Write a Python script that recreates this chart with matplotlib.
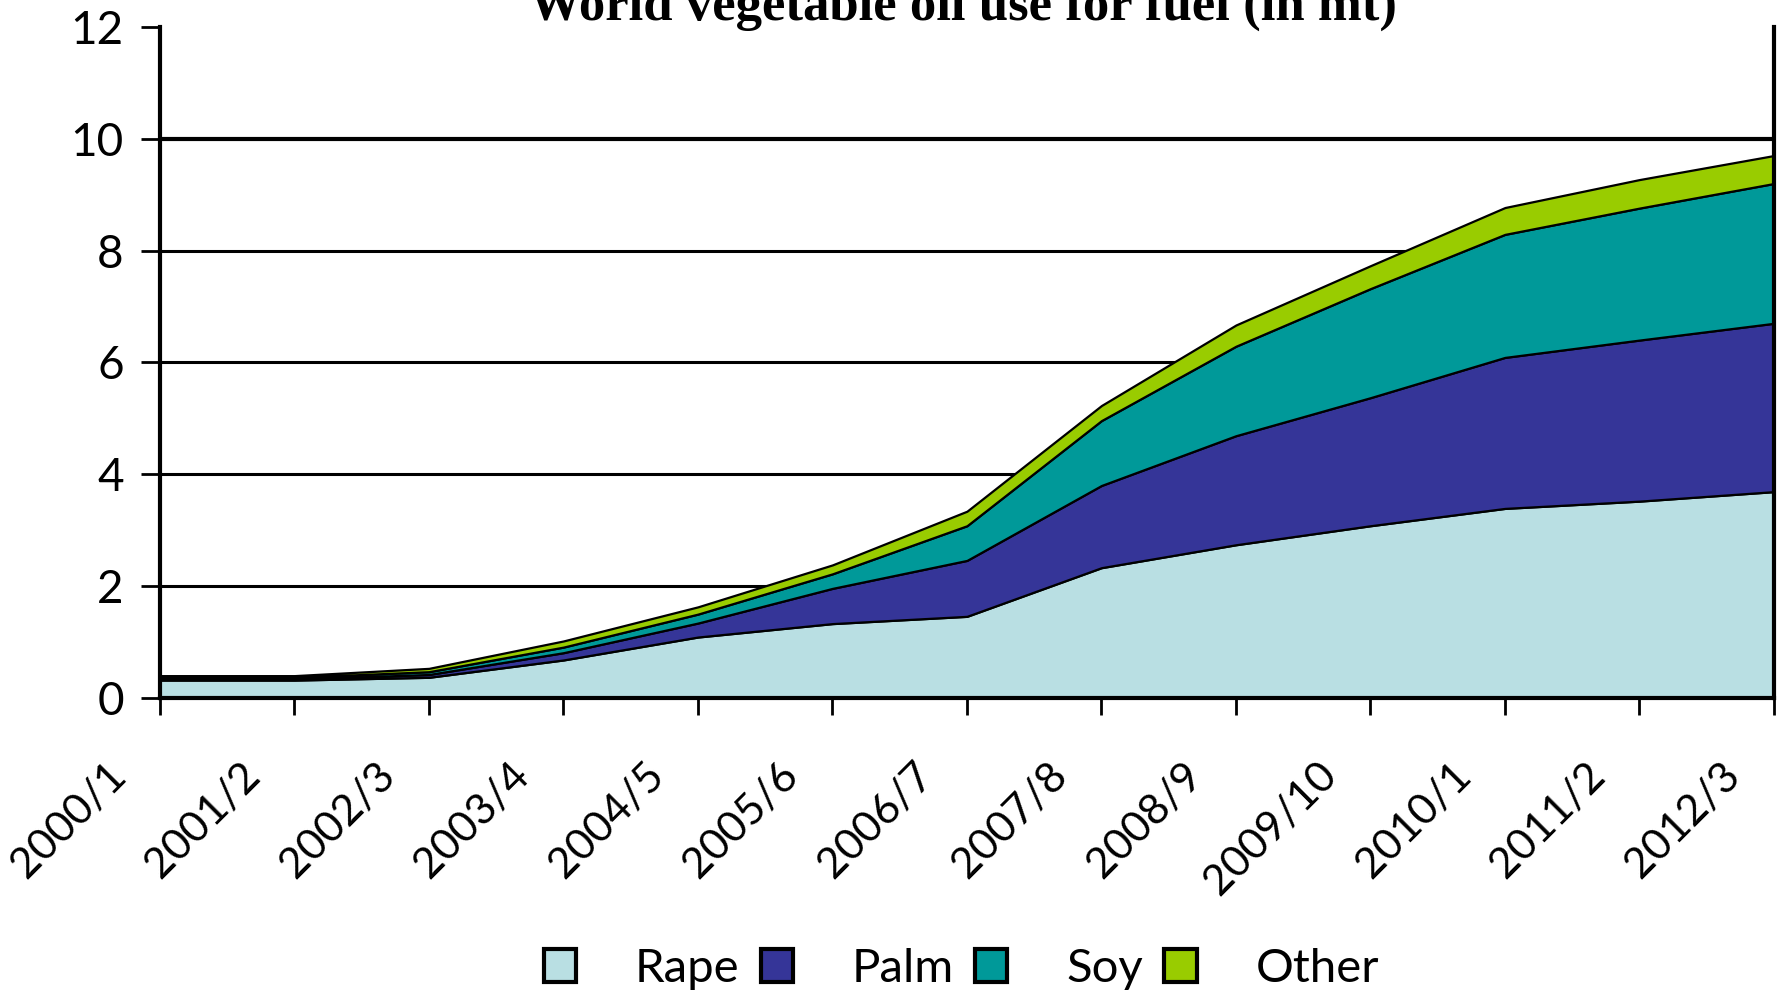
import matplotlib
matplotlib.use("Agg")
import matplotlib.pyplot as plt
from matplotlib.patches import Patch
from matplotlib.transforms import ScaledTranslation

seasons = ["2000/1", "2001/2", "2002/3", "2003/4", "2004/5", "2005/6", "2006/7",
           "2007/8", "2008/9", "2009/10", "2010/1", "2011/2", "2012/3"]
rape = [0.32, 0.32, 0.37, 0.68, 1.09, 1.33, 1.46, 2.33, 2.74, 3.08, 3.39, 3.52, 3.69]
palm = [0.02, 0.02, 0.05, 0.13, 0.25, 0.63, 1.00, 1.47, 1.95, 2.29, 2.70, 2.88, 3.01]
soy = [0.03, 0.03, 0.05, 0.10, 0.16, 0.26, 0.62, 1.16, 1.60, 1.95, 2.20, 2.36, 2.50]
other = [0.03, 0.03, 0.06, 0.11, 0.13, 0.16, 0.26, 0.27, 0.38, 0.41, 0.48, 0.51, 0.50]

names = ["Rape", "Palm", "Soy", "Other"]
colors = ["#b9dfe3", "#353598", "#009999", "#99cc00"]

plt.rcParams["font.family"] = ["Lato", "DejaVu Sans"]

fig = plt.figure(figsize=(17.87, 9.96), dpi=100)
ax = fig.add_axes([0.0895, 0.2992, 0.9032, 0.6738])

x = list(range(len(seasons)))
for yv in [2, 4, 6, 8]:
    ax.axhline(yv, color="black", lw=2.2, zorder=0)
ax.axhline(10, color="black", lw=3, zorder=0)

ax.stackplot(x, rape, palm, soy, other, colors=colors,
             edgecolor="black", linewidth=1.6, zorder=2)

ax.set_xlim(0, len(seasons) - 1)
ax.set_ylim(0, 12)
ax.set_yticks([0, 2, 4, 6, 8, 10, 12])
ax.set_xticks(x)
ax.set_xticklabels(seasons, rotation=45, ha="right", va="top",
                   rotation_mode="anchor", fontsize=31)
ax.tick_params(axis="y", labelsize=33, length=14, width=2, pad=12, direction="out")
ax.tick_params(axis="x", length=12, width=2, pad=12, direction="out")

# nudge the slanted season labels left and down, as in the original
shift = ScaledTranslation(-0.54, -0.24, fig.dpi_scale_trans)
for lab in ax.get_xticklabels():
    lab.set_transform(lab.get_transform() + shift)

for side in ["left", "bottom", "right"]:
    ax.spines[side].set_linewidth(3)
ax.spines["top"].set_visible(False)

fig.text(0.539, 0.98, "World vegetable oil use for fuel (in mt)", ha="center",
         va="baseline", fontsize=38, fontweight="bold", family="Liberation Serif")

handles = [Patch(facecolor=c, edgecolor="black", linewidth=3) for c in colors]
fig.legend(handles, names, loc="center", bbox_to_anchor=(0.538, 0.027), ncol=4,
           frameon=False, fontsize=34, handlelength=0.68, handleheight=0.68,
           handletextpad=1.25, columnspacing=0.45)

fig.savefig("out.png", dpi=100)
